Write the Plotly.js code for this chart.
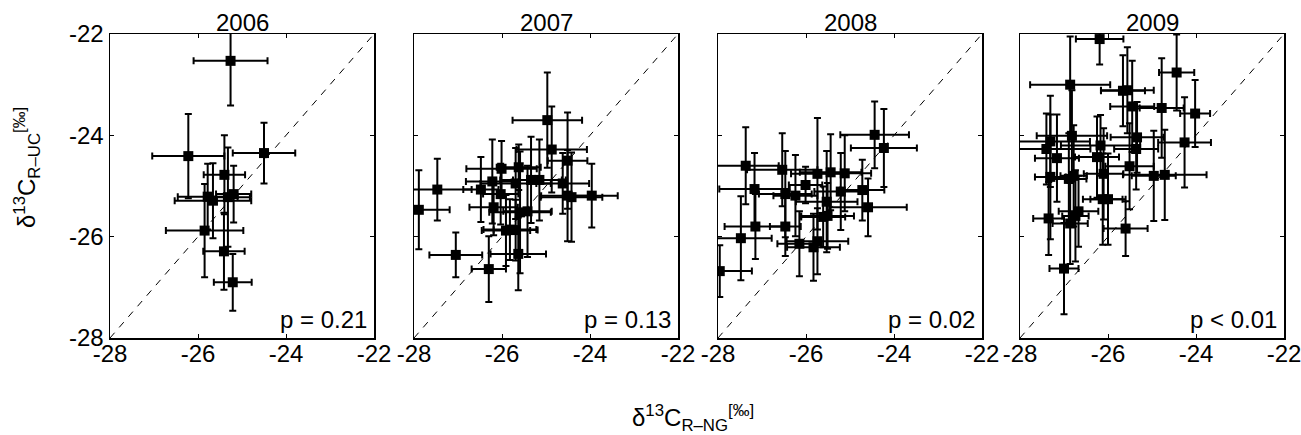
<!DOCTYPE html>
<html>
<head>
<meta charset="utf-8">
<script src="https://cdn.plot.ly/plotly-3.0.1.min.js"></script>
<style>html,body{margin:0;padding:0;background:#fff;}#chart{width:1301px;height:435px;}</style>
</head>
<body>
<div id="chart"></div>
<script>
// ---- data ----
const years = ['2006', '2007', '2008', '2009'];
const pLabels = ['p = 0.21', 'p = 0.13', 'p = 0.02', 'p < 0.01'];
const axisRange = [-28, -22];
const tickValues = [-28, -26, -24, -22];
const tickLabels = ['-28', '-26', '-24', '-22'];

const x2006 = [-25.26, -26.22, -24.50, -25.40, -25.78, -25.66, -25.32, -25.19, -25.85, -25.41, -25.21];
const y2006 = [-22.53, -24.41, -24.35, -24.78, -25.21, -25.29, -25.22, -25.16, -25.88, -26.29, -26.90];
const xErr2006 = [0.84, 0.82, 0.71, 0.47, 0.68, 0.87, 0.50, 0.40, 0.88, 0.47, 0.43];
const yErr2006 = [0.88, 0.83, 0.60, 0.78, 0.65, 0.74, 0.98, 0.56, 0.92, 0.76, 0.56];

const x2007 = [-27.89, -27.47, -27.05, -26.48, -26.30, -26.22, -26.19, -26.03, -26.01, -25.91, -25.82, -25.69, -25.62, -25.59, -25.69, -25.63, -25.42, -25.34, -25.15, -24.97, -24.87, -24.62, -24.51, -24.51, -24.42, -23.96];
const y2007 = [-25.47, -25.07, -26.36, -25.07, -26.64, -24.91, -25.42, -25.16, -24.66, -25.88, -25.86, -24.95, -24.63, -25.52, -25.87, -26.34, -25.50, -24.88, -24.88, -23.70, -24.28, -24.95, -24.50, -25.19, -25.22, -25.19];
const xErr2007 = [0.70, 0.78, 0.60, 0.40, 0.39, 0.60, 0.55, 0.40, 0.80, 0.55, 0.60, 0.80, 0.50, 0.70, 0.50, 0.63, 0.55, 0.70, 0.60, 0.79, 0.80, 0.60, 0.45, 0.60, 0.70, 0.59];
const yErr2007 = [0.78, 0.61, 0.44, 0.64, 0.65, 0.83, 0.55, 0.60, 0.55, 0.70, 0.60, 0.70, 0.45, 1.20, 0.60, 0.72, 0.90, 0.85, 0.80, 0.94, 0.85, 0.60, 0.95, 0.90, 0.88, 0.63];

const x2008 = [-27.96, -27.48, -27.37, -27.17, -27.15, -26.54, -26.47, -26.47, -26.24, -26.15, -26.01, -25.83, -25.74, -25.74, -25.61, -25.53, -25.51, -25.44, -25.21, -25.12, -24.72, -24.59, -24.44, -24.23];
const y2008 = [-26.68, -26.03, -24.60, -25.06, -25.80, -24.68, -25.16, -25.80, -25.19, -26.14, -24.98, -26.21, -24.76, -26.09, -25.61, -25.31, -25.59, -24.73, -25.11, -24.75, -25.08, -25.42, -23.99, -24.25];
const xErr2008 = [0.73, 0.70, 0.75, 0.80, 0.70, 0.80, 0.60, 0.35, 0.50, 0.50, 0.38, 0.60, 0.60, 0.70, 0.50, 0.70, 0.60, 0.70, 0.60, 0.60, 0.50, 0.88, 0.78, 0.75];
const yErr2008 = [0.51, 0.83, 0.76, 0.71, 0.64, 0.72, 0.85, 0.58, 0.80, 0.64, 0.36, 0.66, 1.10, 0.65, 0.60, 1.00, 0.65, 0.75, 0.76, 0.75, 0.60, 0.57, 0.66, 0.77];

const x2009 = [-26.19, -26.86, -24.44, -25.66, -25.56, -25.45, -24.78, -24.02, -27.31, -26.82, -27.40, -26.17, -25.34, -25.36, -24.26, -27.16, -26.25, -25.51, -27.31, -26.89, -26.78, -26.10, -24.96, -24.71, -26.12, -26.00, -27.35, -26.86, -26.74, -26.67, -25.60, -27.00];
const y2009 = [-22.10, -23.00, -22.76, -23.12, -23.11, -23.43, -23.46, -23.57, -24.12, -24.01, -24.27, -24.20, -24.04, -24.27, -24.14, -24.45, -24.43, -24.61, -24.82, -24.86, -24.80, -24.76, -24.80, -24.78, -25.26, -25.26, -25.64, -25.74, -25.59, -25.50, -25.84, -26.63];
const xErr2009 = [0.54, 0.91, 0.40, 0.50, 0.60, 0.50, 0.50, 0.34, 0.90, 0.80, 1.00, 0.90, 0.60, 0.50, 0.60, 0.50, 0.50, 0.55, 0.35, 0.40, 0.30, 0.45, 0.50, 0.95, 0.45, 0.40, 0.35, 0.40, 0.30, 0.45, 0.50, 0.33];
const yErr2009 = [0.50, 0.95, 0.75, 0.70, 0.85, 0.90, 0.98, 0.66, 0.90, 0.90, 0.70, 0.60, 0.70, 0.80, 0.89, 0.86, 0.80, 0.85, 1.23, 0.90, 1.00, 0.90, 0.89, 0.89, 0.90, 0.90, 0.72, 0.80, 0.90, 0.70, 0.54, 0.90];

const seriesX = [x2006, x2007, x2008, x2009];
const seriesY = [y2006, y2007, y2008, y2009];
const seriesXErr = [xErr2006, xErr2007, xErr2008, xErr2009];
const seriesYErr = [yErr2006, yErr2007, yErr2008, yErr2009];

// ---- layout ----
const W = 1301, H = 435;
const panelLeft = [110, 414, 718, 1020];
const panelWidth = 264;
const plotTop = 34, plotBottom = 338;
const FONT = 'Liberation Sans, Arial, Helvetica, sans-serif';

const traces = [];
const layout = {
  width: W, height: H,
  margin: {l: 0, r: 0, t: 0, b: 0},
  paper_bgcolor: '#ffffff', plot_bgcolor: '#ffffff',
  showlegend: false,
  font: {family: FONT, size: 24, color: '#000'},
  annotations: []
};

years.forEach((yr, i) => {
  const sfx = i === 0 ? '' : String(i + 1);
  const xa = 'x' + sfx, ya = 'y' + sfx;
  // 1:1 line
  traces.push({
    x: axisRange, y: axisRange, xaxis: xa, yaxis: ya,
    mode: 'lines', type: 'scatter', hoverinfo: 'skip',
    line: {color: '#000', width: 1, dash: '7px,7px'}
  });
  traces.push({
    x: seriesX[i], y: seriesY[i], xaxis: xa, yaxis: ya,
    mode: 'markers', type: 'scatter',
    marker: {symbol: 'square', size: 10, color: '#000'},
    error_x: {type: 'data', array: seriesXErr[i], visible: true, color: '#000', thickness: 2, width: 3.5},
    error_y: {type: 'data', array: seriesYErr[i], visible: true, color: '#000', thickness: 2, width: 3.5}
  });
  const common = {
    range: axisRange, tickvals: tickValues, ticktext: tickLabels,
    showgrid: false, zeroline: false, showline: true, mirror: 'ticks',
    linecolor: '#000', linewidth: 1.5, ticks: 'inside', ticklen: 4, tickwidth: 1, tickcolor: '#000',
    tickfont: {family: FONT, size: 24, color: '#000'}, fixedrange: true,
    ticklabeloverflow: 'allow'
  };
  layout['xaxis' + sfx] = Object.assign({}, common, {
    domain: [panelLeft[i] / W, (panelLeft[i] + panelWidth) / W],
    anchor: ya,
    ticklabelstandoff: -6
  });
  layout['yaxis' + sfx] = Object.assign({}, common, {
    domain: [(H - plotBottom) / H, (H - plotTop) / H],
    anchor: xa,
    showticklabels: i === 0
  });
  layout.annotations.push({
    text: yr, xref: xa + ' domain', yref: ya + ' domain', x: 0.5, y: 1,
    xanchor: 'center', yanchor: 'bottom', yshift: -4, showarrow: false,
    font: {family: FONT, size: 24, color: '#000'}
  });
  layout.annotations.push({
    text: pLabels[i], xref: xa + ' domain', yref: ya + ' domain', x: 1, y: 0,
    xanchor: 'right', yanchor: 'bottom', xshift: -5, yshift: 3, showarrow: false,
    font: {family: FONT, size: 24, color: '#000'}
  });
});

layout.annotations.push({
  text: 'δ<sup>13</sup>C<sub>R\u2013UC</sub><sup>[‰]</sup>',
  xref: 'paper', yref: 'paper', x: 27 / W, y: (H - 168) / H,
  xanchor: 'center', yanchor: 'middle', textangle: -90, showarrow: false,
  font: {family: FONT, size: 24, color: '#000'}
});
layout.annotations.push({
  text: 'δ<sup>13</sup>C<sub>R\u2013NG</sub><sup>[‰]</sup>',
  xref: 'paper', yref: 'paper', x: 693 / W, y: (H - 418) / H,
  xanchor: 'center', yanchor: 'middle', showarrow: false,
  font: {family: FONT, size: 24, color: '#000'}
});

Plotly.newPlot('chart', traces, layout, {displayModeBar: false, staticPlot: true});
</script>
</body>
</html>
